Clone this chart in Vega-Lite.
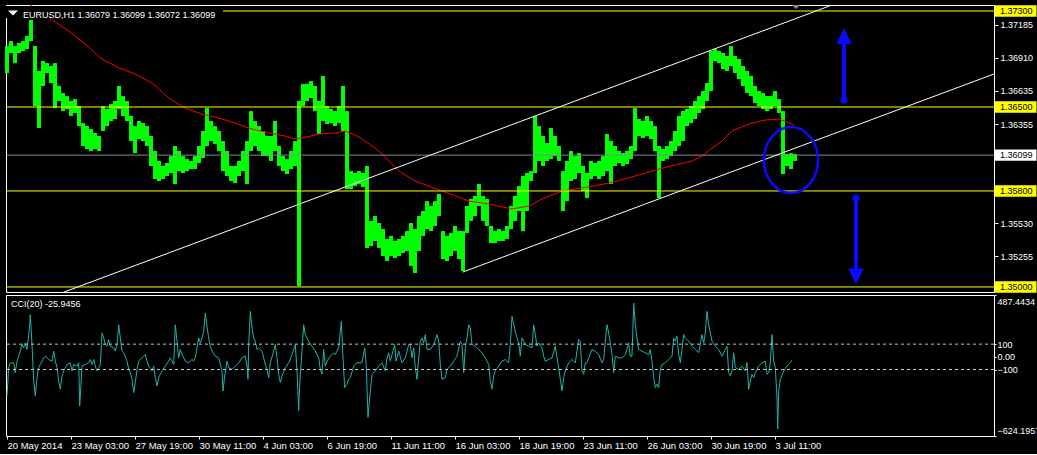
{
  "$schema": "https://vega.github.io/schema/vega-lite/v6.json",
  "background": "#000000",
  "padding": {"left": 4, "top": 4, "right": 2, "bottom": 4},
  "bounds": "flush",
  "spacing": 3,
  "resolve": {"scale": {"x": "independent", "y": "independent"}},
  "datasets": {
    "price": [
      {"i":0,"hi":1.37008,"lo":1.36783},{"i":4,"hi":1.3705,"lo":1.3695},{"i":8,"hi":1.37008,"lo":1.36866},{"i":12,"hi":1.37033,"lo":1.3695},
      {"i":16,"hi":1.3705,"lo":1.36966},{"i":20,"hi":1.37091,"lo":1.36983},{"i":24,"hi":1.37225,"lo":1.3705},{"i":28,"hi":1.37008,"lo":1.36508},
      {"i":32,"hi":1.368,"lo":1.36325},{"i":36,"hi":1.36883,"lo":1.36675},{"i":40,"hi":1.36866,"lo":1.36783},{"i":44,"hi":1.36841,"lo":1.367},
      {"i":48,"hi":1.36866,"lo":1.36491},{"i":52,"hi":1.36675,"lo":1.3655},{"i":56,"hi":1.36616,"lo":1.36466},{"i":60,"hi":1.36591,"lo":1.36483},
      {"i":64,"hi":1.3655,"lo":1.36425},{"i":68,"hi":1.36566,"lo":1.3645},{"i":72,"hi":1.36508,"lo":1.36341},{"i":76,"hi":1.36366,"lo":1.36175},
      {"i":80,"hi":1.36341,"lo":1.3615},{"i":84,"hi":1.36316,"lo":1.36133},{"i":88,"hi":1.36283,"lo":1.3615},{"i":92,"hi":1.36258,"lo":1.36133},
      {"i":96,"hi":1.36508,"lo":1.363},{"i":100,"hi":1.36483,"lo":1.36341},{"i":104,"hi":1.36525,"lo":1.36383},{"i":108,"hi":1.3655,"lo":1.364},
      {"i":112,"hi":1.36675,"lo":1.36483},{"i":116,"hi":1.36591,"lo":1.36425},{"i":120,"hi":1.3655,"lo":1.36383},{"i":124,"hi":1.36425,"lo":1.36216},
      {"i":128,"hi":1.36341,"lo":1.36116},{"i":132,"hi":1.36383,"lo":1.36233},{"i":136,"hi":1.36366,"lo":1.36216},{"i":140,"hi":1.36341,"lo":1.36175},
      {"i":144,"hi":1.36258,"lo":1.36008},{"i":148,"hi":1.36133,"lo":1.359},{"i":152,"hi":1.3605,"lo":1.35883},{"i":156,"hi":1.36008,"lo":1.359},
      {"i":160,"hi":1.36033,"lo":1.35925},{"i":164,"hi":1.36091,"lo":1.3595},{"i":168,"hi":1.36175,"lo":1.35858},{"i":172,"hi":1.36133,"lo":1.35966},
      {"i":176,"hi":1.36091,"lo":1.3595},{"i":180,"hi":1.36066,"lo":1.35966},{"i":184,"hi":1.3605,"lo":1.35983},{"i":188,"hi":1.36091,"lo":1.35983},
      {"i":192,"hi":1.36175,"lo":1.36033},{"i":196,"hi":1.363,"lo":1.36075},{"i":200,"hi":1.36491,"lo":1.36175},{"i":204,"hi":1.36383,"lo":1.36216},
      {"i":208,"hi":1.36341,"lo":1.36191},{"i":212,"hi":1.363,"lo":1.36133},{"i":216,"hi":1.36216,"lo":1.35966},{"i":220,"hi":1.36133,"lo":1.35925},
      {"i":224,"hi":1.36008,"lo":1.35883},{"i":228,"hi":1.36008,"lo":1.35866},{"i":232,"hi":1.3605,"lo":1.35925},{"i":236,"hi":1.36133,"lo":1.35966},
      {"i":240,"hi":1.36216,"lo":1.35858},{"i":244,"hi":1.36466,"lo":1.36133},{"i":248,"hi":1.36383,"lo":1.36175},{"i":252,"hi":1.36341,"lo":1.36133},
      {"i":256,"hi":1.363,"lo":1.36091},{"i":260,"hi":1.36258,"lo":1.36091},{"i":264,"hi":1.36258,"lo":1.3605},{"i":268,"hi":1.36383,"lo":1.36133},
      {"i":272,"hi":1.36175,"lo":1.36008},{"i":276,"hi":1.36091,"lo":1.35966},{"i":280,"hi":1.36066,"lo":1.35941},{"i":284,"hi":1.36133,"lo":1.35983},
      {"i":288,"hi":1.36216,"lo":1.36008},{"i":292,"hi":1.3655,"lo":1.35008},{"i":296,"hi":1.36691,"lo":1.36508},{"i":300,"hi":1.36691,"lo":1.3655},
      {"i":304,"hi":1.36716,"lo":1.36575},{"i":308,"hi":1.36675,"lo":1.36466},{"i":312,"hi":1.3655,"lo":1.36275},{"i":316,"hi":1.36758,"lo":1.36383},
      {"i":320,"hi":1.36508,"lo":1.36358},{"i":324,"hi":1.36483,"lo":1.36366},{"i":328,"hi":1.36466,"lo":1.36341},{"i":332,"hi":1.36508,"lo":1.36366},
      {"i":336,"hi":1.36675,"lo":1.363},{"i":340,"hi":1.36466,"lo":1.35816},{"i":344,"hi":1.35966,"lo":1.35816},{"i":348,"hi":1.3595,"lo":1.35841},
      {"i":352,"hi":1.35966,"lo":1.35858},{"i":356,"hi":1.3595,"lo":1.35833},{"i":360,"hi":1.36008,"lo":1.35325},{"i":364,"hi":1.3555,"lo":1.35341},
      {"i":368,"hi":1.35591,"lo":1.35383},{"i":372,"hi":1.35533,"lo":1.35325},{"i":376,"hi":1.35483,"lo":1.35258},{"i":380,"hi":1.354,"lo":1.35216},
      {"i":384,"hi":1.35425,"lo":1.35258},{"i":388,"hi":1.35383,"lo":1.35241},{"i":392,"hi":1.354,"lo":1.35258},{"i":396,"hi":1.35425,"lo":1.35283},
      {"i":400,"hi":1.35466,"lo":1.353},{"i":404,"hi":1.35533,"lo":1.35175},{"i":408,"hi":1.35483,"lo":1.35116},{"i":412,"hi":1.35591,"lo":1.353},
      {"i":416,"hi":1.35633,"lo":1.35425},{"i":420,"hi":1.35716,"lo":1.35483},{"i":424,"hi":1.35675,"lo":1.35466},{"i":428,"hi":1.35716,"lo":1.35508},
      {"i":432,"hi":1.35775,"lo":1.35591},{"i":436,"hi":1.35466,"lo":1.35233},{"i":440,"hi":1.35425,"lo":1.35216},{"i":444,"hi":1.3545,"lo":1.35258},
      {"i":448,"hi":1.35508,"lo":1.353},{"i":452,"hi":1.35466,"lo":1.35233},{"i":456,"hi":1.35466,"lo":1.35133},{"i":460,"hi":1.35675,"lo":1.3545},
      {"i":464,"hi":1.35733,"lo":1.3555},{"i":468,"hi":1.35758,"lo":1.35591},{"i":472,"hi":1.35858,"lo":1.35675},{"i":476,"hi":1.35758,"lo":1.3555},
      {"i":480,"hi":1.35733,"lo":1.35508},{"i":484,"hi":1.35508,"lo":1.35366},{"i":488,"hi":1.35466,"lo":1.35366},{"i":492,"hi":1.35483,"lo":1.35383},
      {"i":496,"hi":1.35466,"lo":1.35383},{"i":500,"hi":1.35508,"lo":1.354},{"i":504,"hi":1.35675,"lo":1.35483},{"i":508,"hi":1.35758,"lo":1.3555},
      {"i":512,"hi":1.35841,"lo":1.35633},{"i":516,"hi":1.35925,"lo":1.35466},{"i":520,"hi":1.3595,"lo":1.35633},{"i":524,"hi":1.35966,"lo":1.35883},
      {"i":528,"hi":1.36425,"lo":1.3595},{"i":532,"hi":1.36341,"lo":1.3605},{"i":536,"hi":1.36258,"lo":1.36008},{"i":540,"hi":1.362,"lo":1.3605},
      {"i":544,"hi":1.36325,"lo":1.36066},{"i":548,"hi":1.36258,"lo":1.36091},{"i":552,"hi":1.36175,"lo":1.3605},{"i":556,"hi":1.35966,"lo":1.35633},
      {"i":560,"hi":1.3605,"lo":1.35716},{"i":564,"hi":1.36133,"lo":1.35883},{"i":568,"hi":1.36091,"lo":1.359},{"i":572,"hi":1.36116,"lo":1.3595},
      {"i":576,"hi":1.36008,"lo":1.358},{"i":580,"hi":1.3595,"lo":1.35741},{"i":584,"hi":1.3605,"lo":1.359},{"i":588,"hi":1.36033,"lo":1.35925},
      {"i":592,"hi":1.3605,"lo":1.359},{"i":596,"hi":1.36091,"lo":1.35925},{"i":600,"hi":1.36275,"lo":1.35966},{"i":604,"hi":1.36216,"lo":1.35858},
      {"i":608,"hi":1.36175,"lo":1.36008},{"i":612,"hi":1.36133,"lo":1.36033},{"i":616,"hi":1.36116,"lo":1.36008},{"i":620,"hi":1.36133,"lo":1.36025},
      {"i":624,"hi":1.36175,"lo":1.36066},{"i":628,"hi":1.36491,"lo":1.36133},{"i":632,"hi":1.364,"lo":1.36258},{"i":636,"hi":1.36383,"lo":1.36241},
      {"i":640,"hi":1.36425,"lo":1.36258},{"i":644,"hi":1.36383,"lo":1.36233},{"i":648,"hi":1.36341,"lo":1.36133},{"i":652,"hi":1.36175,"lo":1.35741},
      {"i":656,"hi":1.3615,"lo":1.3605},{"i":660,"hi":1.36175,"lo":1.36066},{"i":664,"hi":1.36216,"lo":1.36091},{"i":668,"hi":1.363,"lo":1.36133},
      {"i":672,"hi":1.36425,"lo":1.36175},{"i":676,"hi":1.36466,"lo":1.36216},{"i":680,"hi":1.36483,"lo":1.36341},{"i":684,"hi":1.36508,"lo":1.36366},
      {"i":688,"hi":1.3655,"lo":1.364},{"i":692,"hi":1.36591,"lo":1.3645},{"i":696,"hi":1.36633,"lo":1.36483},{"i":700,"hi":1.367,"lo":1.3655},
      {"i":704,"hi":1.36966,"lo":1.36633},{"i":708,"hi":1.36983,"lo":1.36883},{"i":712,"hi":1.36966,"lo":1.36866},{"i":716,"hi":1.3695,"lo":1.36816},
      {"i":720,"hi":1.36925,"lo":1.368},{"i":724,"hi":1.37008,"lo":1.36841},{"i":728,"hi":1.36925,"lo":1.36783},{"i":732,"hi":1.369,"lo":1.36733},
      {"i":736,"hi":1.36841,"lo":1.36675},{"i":740,"hi":1.368,"lo":1.36616},{"i":744,"hi":1.36758,"lo":1.36591},{"i":748,"hi":1.36675,"lo":1.36533},
      {"i":752,"hi":1.36633,"lo":1.36508},{"i":756,"hi":1.36616,"lo":1.36483},{"i":760,"hi":1.36591,"lo":1.36466},{"i":764,"hi":1.36591,"lo":1.36483},
      {"i":768,"hi":1.36633,"lo":1.36508},{"i":772,"hi":1.36566,"lo":1.3645},{"i":776,"hi":1.36466,"lo":1.35941},{"i":780,"hi":1.36108,"lo":1.36008},
      {"i":784,"hi":1.36116,"lo":1.35983},{"i":788,"hi":1.36108,"lo":1.3605}
    ],
    "ma": [
      {"i":22,"p":1.37358},{"i":44,"p":1.37233},{"i":62,"p":1.37133},{"i":78,"p":1.37025},{"i":95,"p":1.369},{"i":112,"p":1.36825},
      {"i":128,"p":1.36775},{"i":145,"p":1.367},{"i":162,"p":1.36575},{"i":178,"p":1.36491},{"i":195,"p":1.36441},{"i":212,"p":1.36408},
      {"i":228,"p":1.36366},{"i":245,"p":1.36316},{"i":262,"p":1.36283},{"i":278,"p":1.36258},{"i":288,"p":1.36233},{"i":295,"p":1.36241},
      {"i":312,"p":1.36275},{"i":328,"p":1.36283},{"i":338,"p":1.363},{"i":352,"p":1.3625},{"i":368,"p":1.36158},{"i":375,"p":1.36108},
      {"i":392,"p":1.35966},{"i":408,"p":1.35883},{"i":435,"p":1.358},{"i":462,"p":1.35716},{"i":482,"p":1.35691},{"i":505,"p":1.3565},
      {"i":522,"p":1.35675},{"i":535,"p":1.35733},{"i":555,"p":1.358},{"i":575,"p":1.35825},{"i":602,"p":1.35866},{"i":618,"p":1.359},
      {"i":635,"p":1.35941},{"i":652,"p":1.35983},{"i":668,"p":1.36016},{"i":685,"p":1.3605},{"i":695,"p":1.36091},{"i":705,"p":1.36158},
      {"i":715,"p":1.36216},{"i":725,"p":1.363},{"i":742,"p":1.36358},{"i":758,"p":1.36391},{"i":772,"p":1.364},{"i":785,"p":1.36358},{"i":788,"p":1.36341}
    ],
    "trend": [
      {"id":"a","i":45,"p":1.3492},{"id":"a","i":835,"p":1.37381},
      {"id":"b","i":455.7,"p":1.35124},{"id":"b","i":995,"p":1.368}
    ],
    "levels": [
      {"p":1.373,"lab":"1.37300","k":"y"},{"p":1.365,"lab":"1.36500","k":"y"},{"p":1.358,"lab":"1.35800","k":"y"},
      {"p":1.35,"lab":"1.35000","k":"y"},{"p":1.36099,"lab":"1.36099","k":"w"}
    ],
    "arrows": [
      {"dir":"up","i":837,"tail":1.36558,"base":1.37025,"head":1.37092},
      {"dir":"dn","i":849,"tail":1.35741,"base":1.3515,"head":1.35087}
    ],
    "ring": [{"i":784,"p":1.36058}],
    "cci": [
      {"i":0,"v":-308},{"i":1.7,"v":-86},{"i":3.3,"v":-47},{"i":6.7,"v":-47},{"i":8.3,"v":-125},{"i":10,"v":-34},{"i":11.7,"v":5},{"i":13.3,"v":45},
      {"i":15,"v":97},{"i":16.7,"v":71},{"i":18.3,"v":110},{"i":20,"v":58},{"i":21.7,"v":175},{"i":22.7,"v":253},{"i":23.3,"v":332},{"i":25,"v":97},
      {"i":26.7,"v":-190},{"i":28.3,"v":-308},{"i":30,"v":-164},{"i":31.7,"v":-86},{"i":33.3,"v":-60},{"i":35,"v":-34},{"i":36.7,"v":-8},{"i":38.3,"v":5},
      {"i":41.7,"v":-21},{"i":45,"v":-34},{"i":46.7,"v":45},{"i":48.3,"v":-34},{"i":50,"v":-86},{"i":51.7,"v":-190},{"i":53.3,"v":-255},{"i":55,"v":-151},
      {"i":56.7,"v":-112},{"i":60,"v":-60},{"i":63.3,"v":-47},{"i":65,"v":-112},{"i":66.7,"v":-60},{"i":70,"v":-73},{"i":71.7,"v":-47},{"i":72.7,"v":-386},
      {"i":74,"v":-216},{"i":75,"v":-73},{"i":78.3,"v":-60},{"i":81.7,"v":-47},{"i":83.3,"v":-21},{"i":85,"v":-60},{"i":86.7,"v":-21},{"i":88.3,"v":-73},
      {"i":90,"v":-112},{"i":91.7,"v":-86},{"i":93.3,"v":-60},{"i":95,"v":188},{"i":96.7,"v":149},{"i":98.3,"v":97},{"i":100,"v":84},{"i":101.7,"v":136},
      {"i":103.3,"v":84},{"i":106.7,"v":71},{"i":108.3,"v":45},{"i":110,"v":97},{"i":111.7,"v":253},{"i":113.3,"v":149},{"i":115,"v":45},{"i":116.7,"v":32},
      {"i":120,"v":-34},{"i":121.7,"v":-99},{"i":123.3,"v":-125},{"i":125,"v":-177},{"i":126.7,"v":-282},{"i":128.3,"v":-203},{"i":130,"v":-99},{"i":131.7,"v":-34},
      {"i":135,"v":-8},{"i":138.3,"v":18},{"i":140,"v":-34},{"i":141.7,"v":-73},{"i":143.3,"v":-86},{"i":145,"v":-112},{"i":146.7,"v":-73},{"i":148.3,"v":-164},
      {"i":150,"v":-229},{"i":151.7,"v":-164},{"i":153.3,"v":-138},{"i":155,"v":-112},{"i":158.3,"v":-73},{"i":161.7,"v":-34},{"i":163.3,"v":-8},{"i":165,"v":-34},
      {"i":166.7,"v":-60},{"i":168.3,"v":253},{"i":170,"v":123},{"i":171.7,"v":-8},{"i":173.3,"v":58},{"i":175,"v":18},{"i":176.7,"v":-8},{"i":178.3,"v":-34},
      {"i":181.7,"v":-47},{"i":185,"v":-21},{"i":186.7,"v":-34},{"i":188.3,"v":-8},{"i":190,"v":71},{"i":191.7,"v":149},{"i":193.3,"v":110},{"i":195,"v":149},
      {"i":196.7,"v":201},{"i":198.3,"v":345},{"i":200,"v":240},{"i":201.7,"v":149},{"i":203.3,"v":84},{"i":205,"v":45},{"i":208.3,"v":5},{"i":211.7,"v":-8},
      {"i":215,"v":-112},{"i":216,"v":-269},{"i":217.7,"v":-151},{"i":220,"v":-34},{"i":221.7,"v":-86},{"i":225,"v":-99},{"i":228.3,"v":-73},{"i":231.7,"v":-47},
      {"i":235,"v":-8},{"i":238.3,"v":5},{"i":240,"v":-73},{"i":241,"v":-177},{"i":241.7,"v":97},{"i":243.3,"v":358},{"i":245,"v":227},{"i":246.7,"v":149},
      {"i":248.3,"v":123},{"i":250,"v":58},{"i":251.7,"v":71},{"i":255,"v":45},{"i":258.3,"v":-60},{"i":260,"v":-99},{"i":261.7,"v":-164},{"i":263.3,"v":-47},
      {"i":266.7,"v":45},{"i":268.3,"v":97},{"i":270,"v":-8},{"i":271.7,"v":-138},{"i":273.3,"v":-203},{"i":275,"v":-151},{"i":278.3,"v":-86},{"i":281.7,"v":-47},
      {"i":285,"v":18},{"i":286.7,"v":58},{"i":288.3,"v":97},{"i":290,"v":-112},{"i":291.7,"v":-425},{"i":292.7,"v":-216},{"i":294.3,"v":-34},{"i":296.7,"v":253},
      {"i":298.3,"v":175},{"i":301.7,"v":123},{"i":305,"v":84},{"i":308.3,"v":45},{"i":311.7,"v":-8},{"i":313.3,"v":-99},{"i":315,"v":-138},{"i":316.7,"v":58},
      {"i":318.3,"v":-73},{"i":320,"v":-34},{"i":323.3,"v":5},{"i":326.7,"v":32},{"i":328.3,"v":18},{"i":331.7,"v":71},{"i":334.3,"v":279},{"i":336,"v":-8},
      {"i":337.7,"v":-242},{"i":340,"v":-216},{"i":341.7,"v":-177},{"i":343.3,"v":-164},{"i":346.7,"v":-73},{"i":350,"v":-47},{"i":355,"v":-47},{"i":357.7,"v":71},
      {"i":359.3,"v":-73},{"i":361,"v":-477},{"i":363.3,"v":-269},{"i":365,"v":-138},{"i":368.3,"v":-112},{"i":371.7,"v":-73},{"i":375,"v":-47},{"i":378.3,"v":-112},
      {"i":380,"v":-8},{"i":381.7,"v":32},{"i":383.3,"v":-34},{"i":385,"v":18},{"i":387.7,"v":97},{"i":389,"v":-34},{"i":391.7,"v":45},{"i":395,"v":-47},
      {"i":398.3,"v":-8},{"i":401.7,"v":97},{"i":403.3,"v":97},{"i":405,"v":-8},{"i":406.7,"v":71},{"i":408.3,"v":-86},{"i":410,"v":-177},{"i":411.7,"v":-8},
      {"i":413.3,"v":123},{"i":415,"v":149},{"i":416.7,"v":110},{"i":418.3,"v":175},{"i":420,"v":58},{"i":423.3,"v":58},{"i":426.7,"v":97},{"i":430,"v":175},
      {"i":431.7,"v":123},{"i":433.3,"v":-60},{"i":435,"v":-177},{"i":438.3,"v":-164},{"i":440,"v":-99},{"i":443.3,"v":-73},{"i":446.7,"v":-34},{"i":450,"v":5},
      {"i":453.3,"v":123},{"i":455,"v":97},{"i":456.7,"v":-125},{"i":458.3,"v":71},{"i":460,"v":149},{"i":461.7,"v":253},{"i":463.3,"v":227},{"i":465,"v":97},
      {"i":468.3,"v":84},{"i":471.7,"v":58},{"i":475,"v":32},{"i":478.3,"v":-8},{"i":481.7,"v":-60},{"i":483.3,"v":-190},{"i":485,"v":-255},{"i":486.7,"v":-151},
      {"i":488.3,"v":-112},{"i":491.7,"v":-73},{"i":495,"v":-34},{"i":498.3,"v":-21},{"i":501.7,"v":-47},{"i":503.3,"v":97},{"i":505,"v":319},{"i":508.3,"v":201},
      {"i":510,"v":149},{"i":511.7,"v":110},{"i":513.3,"v":5},{"i":515,"v":149},{"i":516.7,"v":123},{"i":518.3,"v":97},{"i":521.7,"v":84},{"i":525,"v":71},
      {"i":526.7,"v":253},{"i":528.3,"v":175},{"i":530,"v":84},{"i":531.7,"v":110},{"i":535,"v":71},{"i":536.7,"v":5},{"i":538.3,"v":-34},{"i":541.7,"v":-21},
      {"i":545,"v":-8},{"i":548.3,"v":84},{"i":550,"v":-8},{"i":551.7,"v":-86},{"i":553.3,"v":-177},{"i":555,"v":-269},{"i":556.7,"v":-164},{"i":558.3,"v":-112},
      {"i":561.7,"v":-47},{"i":565,"v":-21},{"i":568.3,"v":-47},{"i":571.7,"v":136},{"i":573.3,"v":123},{"i":575,"v":-112},{"i":576.7,"v":-138},{"i":578.3,"v":-47},
      {"i":580,"v":-47},{"i":581.7,"v":-8},{"i":585,"v":58},{"i":588.3,"v":45},{"i":591.7,"v":18},{"i":595,"v":-47},{"i":596.7,"v":-21},{"i":598.3,"v":123},
      {"i":600,"v":253},{"i":601.7,"v":188},{"i":603.3,"v":110},{"i":605,"v":18},{"i":606.7,"v":-125},{"i":608.3,"v":5},{"i":611.7,"v":-8},{"i":615,"v":-8},
      {"i":618.3,"v":18},{"i":621.7,"v":110},{"i":623.3,"v":5},{"i":625,"v":5},{"i":626.7,"v":423},{"i":628.3,"v":253},{"i":630,"v":149},{"i":631.7,"v":58},
      {"i":635,"v":45},{"i":638.3,"v":32},{"i":641.7,"v":18},{"i":643.3,"v":58},{"i":645,"v":-34},{"i":646.7,"v":-164},{"i":648.3,"v":-242},{"i":650,"v":-216},
      {"i":651.7,"v":-242},{"i":653.3,"v":-99},{"i":655,"v":-60},{"i":658.3,"v":-47},{"i":661.7,"v":-21},{"i":665,"v":5},{"i":666.7,"v":149},{"i":668.3,"v":123},
      {"i":670,"v":162},{"i":671.7,"v":18},{"i":673.3,"v":-47},{"i":675,"v":58},{"i":676.7,"v":175},{"i":678.3,"v":149},{"i":681.7,"v":123},{"i":685,"v":84},
      {"i":688.3,"v":58},{"i":691.7,"v":32},{"i":693.3,"v":97},{"i":695,"v":175},{"i":696.7,"v":110},{"i":698.3,"v":188},{"i":700,"v":358},{"i":701.7,"v":253},
      {"i":705,"v":123},{"i":708.3,"v":84},{"i":711.7,"v":58},{"i":715,"v":5},{"i":718.3,"v":58},{"i":720,"v":84},{"i":721.7,"v":-125},{"i":723.3,"v":-151},
      {"i":725,"v":-112},{"i":726.7,"v":32},{"i":728.3,"v":-86},{"i":731.7,"v":-99},{"i":735,"v":-73},{"i":738.3,"v":-112},{"i":740,"v":-47},{"i":741.7,"v":-255},
      {"i":743.3,"v":-190},{"i":745,"v":-138},{"i":746.7,"v":-164},{"i":748.3,"v":-125},{"i":751.7,"v":-73},{"i":755,"v":-47},{"i":758.3,"v":-34},{"i":760,"v":-138},
      {"i":761.7,"v":-125},{"i":763.3,"v":-47},{"i":765,"v":175},{"i":766.7,"v":-34},{"i":768.3,"v":-86},{"i":770,"v":-321},{"i":770.7,"v":-569},{"i":771.7,"v":-269},
      {"i":773.3,"v":-177},{"i":776.7,"v":-112},{"i":780,"v":-73},{"i":783.3,"v":-47},{"i":785,"v":-26}
    ],
    "cciLevels": [{"v":100},{"v":-100}]
  },
  "vconcat": [
    {
      "width": 988,
      "height": 287,
      "resolve": {"axis": {"x": "independent", "y": "independent"}},
      "layer": [
        {
          "data": {"name": "price"},
          "mark": {"type": "rule", "strokeWidth": 4, "color": "#00ff00"},
          "encoding": {
            "x": {"field": "i", "type": "quantitative", "scale": {"domain": [-1, 987], "nice": false, "zero": false}, "axis": null},
            "y": {"field": "lo", "type": "quantitative", "scale": {"domain": [1.34958, 1.3735], "nice": false, "zero": false},
                  "axis": {"orient": "right", "title": null, "values": [1.37185, 1.3691, 1.36635, 1.36355, 1.3553, 1.35255], "format": ".5f",
                           "tickSize": 4, "labelPadding": 2, "labelOverlap": false, "labelFlush": false, "labelBound": false}},
            "y2": {"field": "hi"}
          }
        },
        {
          "data": {"name": "ma"},
          "mark": {"type": "line", "color": "#ff0000", "strokeWidth": 1, "clip": true},
          "encoding": {
            "x": {"field": "i", "type": "quantitative", "axis": null},
            "y": {"field": "p", "type": "quantitative", "axis": null}
          }
        },
        {
          "data": {"name": "levels"},
          "mark": {"type": "rule", "strokeWidth": 1},
          "encoding": {
            "y": {"field": "p", "type": "quantitative", "axis": null},
            "stroke": {"field": "k", "type": "nominal", "scale": {"domain": ["y", "w"], "range": ["#ffff00", "#7f8c99"]}, "legend": null}
          }
        },
        {
          "data": {"name": "trend"},
          "mark": {"type": "line", "color": "#ffffff", "strokeWidth": 1, "clip": true},
          "encoding": {
            "x": {"field": "i", "type": "quantitative", "axis": null},
            "y": {"field": "p", "type": "quantitative", "axis": null},
            "detail": {"field": "id"}
          }
        },
        {
          "data": {"name": "ring"},
          "mark": {"type": "point", "filled": false, "stroke": "#0a0aff", "strokeWidth": 2.5, "opacity": 1, "size": 4356,
                   "shape": "M0,-1C0.4529,-1,0.82,-0.5523,0.82,0C0.82,0.5523,0.4529,1,0,1C-0.4529,1,-0.82,0.5523,-0.82,0C-0.82,-0.5523,-0.4529,-1,0,-1Z"},
          "encoding": {
            "x": {"field": "i", "type": "quantitative", "axis": null},
            "y": {"field": "p", "type": "quantitative", "axis": null}
          }
        },
        {
          "data": {"name": "arrows"},
          "mark": {"type": "rule", "color": "#0a0aff", "strokeWidth": 4},
          "encoding": {
            "x": {"field": "i", "type": "quantitative", "axis": null},
            "y": {"field": "tail", "type": "quantitative", "axis": null},
            "y2": {"field": "base"}
          }
        },
        {
          "data": {"name": "arrows"},
          "mark": {"type": "point", "filled": true, "color": "#0a0aff", "opacity": 1, "size": 49, "shape": "circle"},
          "encoding": {
            "x": {"field": "i", "type": "quantitative", "axis": null},
            "y": {"field": "tail", "type": "quantitative", "axis": null}
          }
        },
        {
          "data": {"name": "arrows"},
          "mark": {"type": "point", "filled": true, "color": "#0a0aff", "opacity": 1, "size": 256},
          "encoding": {
            "x": {"field": "i", "type": "quantitative", "axis": null},
            "y": {"field": "head", "type": "quantitative", "axis": null},
            "shape": {"field": "dir", "type": "nominal", "scale": {"domain": ["up", "dn"], "range": ["M0,-1L-0.95,1L0.95,1Z", "M0,1L-0.95,-1L0.95,-1Z"]}, "legend": null}
          }
        },
        {
          "data": {"values": [{}]},
          "mark": {"type": "rect", "color": "#000000"},
          "encoding": {
            "x": {"datum": -1, "type": "quantitative", "axis": null},
            "x2": {"datum": 216},
            "y": {"datum": 1.37341, "type": "quantitative", "axis": null},
            "y2": {"datum": 1.37241}
          }
        },
        {
          "data": {"values": [{}]},
          "mark": {"type": "text", "color": "#ffffff", "align": "left", "baseline": "middle", "fontSize": 9, "font": "Liberation Sans"},
          "encoding": {
            "x": {"datum": 16, "type": "quantitative", "axis": null},
            "y": {"datum": 1.3727, "type": "quantitative", "axis": null},
            "text": {"value": "EURUSD,H1  1.36079 1.36099 1.36072 1.36099"}
          }
        },
        {
          "data": {"values": [{}]},
          "mark": {"type": "point", "filled": true, "color": "#ffffff", "opacity": 1, "size": 100, "shape": "M-1,-0.5L1,-0.5L0,0.5Z"},
          "encoding": {
            "x": {"datum": 6, "type": "quantitative", "axis": null},
            "y": {"datum": 1.37283, "type": "quantitative", "axis": null}
          }
        },
        {
          "data": {"values": [{}]},
          "mark": {"type": "point", "filled": true, "color": "#8c8c8c", "opacity": 1, "size": 64, "shape": "M-1,-0.5L1,-0.5L0,0.5Z"},
          "encoding": {
            "x": {"datum": 789, "type": "quantitative", "axis": null},
            "y": {"datum": 1.37333, "type": "quantitative", "axis": null}
          }
        },
        {
          "data": {"name": "levels"},
          "mark": {"type": "point", "filled": true, "opacity": 1, "size": 1764, "strokeWidth": 0, "shape": "M-1,-0.27L1,-0.27L1,0.27L-1,0.27Z"},
          "encoding": {
            "x": {"datum": 1008.5, "type": "quantitative", "axis": null},
            "y": {"field": "p", "type": "quantitative", "axis": null},
            "fill": {"field": "k", "type": "nominal", "scale": {"domain": ["y", "w"], "range": ["#ffff00", "#ffffff"]}, "legend": null}
          }
        },
        {
          "data": {"name": "levels"},
          "mark": {"type": "text", "color": "#000000", "align": "left", "baseline": "middle", "fontSize": 9, "font": "Liberation Sans"},
          "encoding": {
            "x": {"datum": 993, "type": "quantitative", "axis": null},
            "y": {"field": "p", "type": "quantitative", "axis": null},
            "text": {"field": "lab"}
          }
        }
      ]
    },
    {
      "width": 988,
      "height": 141,
      "resolve": {"axis": {"x": "independent", "y": "independent"}},
      "layer": [
        {
          "data": {"name": "cci"},
          "mark": {"type": "line", "color": "#20b2aa", "strokeWidth": 1, "clip": true},
          "encoding": {
            "x": {"field": "i", "type": "quantitative", "scale": {"domain": [-1, 987], "nice": false, "zero": false},
                  "axis": {"orient": "bottom", "title": null, "values": [0, 64, 128, 192, 256, 320, 384, 448, 512, 576, 640, 704, 768],
                           "labelExpr": "['20 May 2014','23 May 03:00','27 May 19:00','30 May 11:00','4 Jun 03:00','6 Jun 19:00','11 Jun 11:00','16 Jun 03:00','18 Jun 19:00','23 Jun 11:00','26 Jun 03:00','30 Jun 19:00','3 Jul 11:00'][round(datum.value / 64)]",
                           "labelAlign": "left", "labelDx": -1, "tickSize": 3, "labelPadding": 1, "labelFontSize": 9.5,
                           "labelOverlap": false, "labelFlush": false, "labelBound": false}},
            "y": {"field": "v", "type": "quantitative", "scale": {"domain": [-624.1957, 487.4434], "nice": false, "zero": false},
                  "axis": {"orient": "right", "title": null, "values": [487.4434, 100, 0, -100, -624.1957],
                           "labelExpr": "datum.value == 0 ? '0.00' : (abs(datum.value) == 100 ? format(datum.value, 'd') : format(datum.value, '.4f'))",
                           "labelBaseline": {"condition": [{"test": "datum.value > 400", "value": "top"}, {"test": "datum.value < -600", "value": "bottom"}], "value": "middle"},
                           "labelOffset": {"condition": [{"test": "datum.value > 400", "value": 2}, {"test": "datum.value < -600", "value": -1}], "value": 0},
                           "tickSize": 2, "labelPadding": 1, "labelFlush": false, "labelOverlap": false, "labelBound": false}}
          }
        },
        {
          "data": {"name": "cciLevels"},
          "mark": {"type": "rule", "color": "#c8c8c8", "strokeWidth": 1, "strokeDash": [3, 3]},
          "encoding": {
            "y": {"field": "v", "type": "quantitative", "axis": null}
          }
        },
        {
          "data": {"values": [{}]},
          "mark": {"type": "text", "color": "#ffffff", "align": "left", "baseline": "middle", "fontSize": 9, "font": "Liberation Sans"},
          "encoding": {
            "x": {"datum": 4, "type": "quantitative", "axis": null},
            "y": {"datum": 419, "type": "quantitative", "axis": null},
            "text": {"value": "CCI(20) -25.9456"}
          }
        }
      ]
    }
  ],
  "config": {
    "view": {"stroke": "#ffffff", "strokeWidth": 1},
    "axis": {"labelColor": "#ffffff", "tickColor": "#ffffff", "labelFont": "Liberation Sans", "labelFontSize": 9, "grid": false, "domain": false},
    "text": {"font": "Liberation Sans"}
  }
}
